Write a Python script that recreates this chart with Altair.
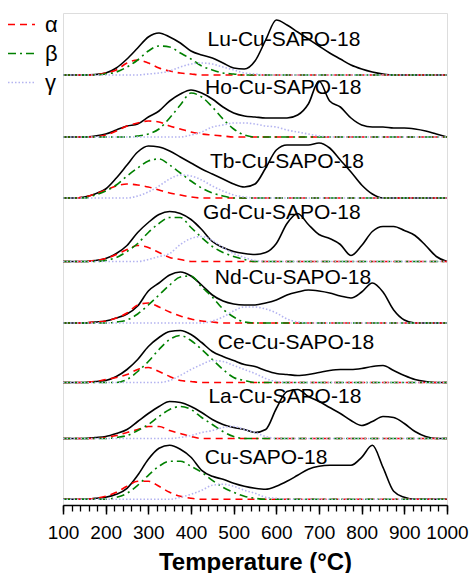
import altair as alt
import pandas as pd

# Temperature grid (°C)
T = list(range(100, 1001, 25))

samples = ["Lu-Cu-SAPO-18", "Ho-Cu-SAPO-18", "Tb-Cu-SAPO-18", "Gd-Cu-SAPO-18",
           "Nd-Cu-SAPO-18", "Ce-Cu-SAPO-18", "La-Cu-SAPO-18", "Cu-SAPO-18"]
# vertical stacking offsets (a.u.)
offsets = [430, 368, 307, 243.5, 182, 122.5, 66.5, 5.7]
# label anchors (temperature, a.u.)
label_T = [618, 616, 625, 613, 639, 646, 620, 576]
label_y = [465, 417, 343, 292, 227, 162, 108, 47]

major_ticks = list(range(100, 1001, 100))
minor_ticks = list(range(100, 1001, 20))

total = {
    "Lu-Cu-SAPO-18": [0,0,0,0.5,2,7,16,27,38,42,38,32,24,20,17,12,7,6,14,35,55,50,43,36,29,22,16,10,6,3,1,0,0,0,0,0,0],
    "Ho-Cu-SAPO-18": [0,0,0,1,3,7,11,13,20,26,36,43,47,44,38,30,24,21,20,19,19,19,22,33,56,36,30,19,12,10,10,9,9,8,6,3,0],
    "Tb-Cu-SAPO-18": [0,0,1,4,9,20,33,46,52,51,47,41,35,29,24,19,14,11,14,30,48,53,53,53,55,50,38,26,13,4,0,0,0,0,0,0,0],
    "Gd-Cu-SAPO-18": [0,0,0,1,3,8,16,29,39,47,50,48,42,32,20,14,10,8,7,9,18,38,48,37,27,23,17,6,16,30,35,35,31,26,16,5,0],
    "Nd-Cu-SAPO-18": [0,0,0,1,2,5,9,17,32,40,48,51,47,38,28,22,19,18,18,20,23,28,31,33,32,30,27,25,31,40,31,13,3,0,0,0,0],
    "Ce-Cu-SAPO-18": [0,0,0,1,2,6,13,23,36,45,51,52,48,40,31,26,22,18,16,12,9,8,7,8,10,12,13,13,14,16,17,12,7,3,1,0,0],
    "La-Cu-SAPO-18": [0,0,0,1,2,5,9,17,25,32,37,36,32,26,19,14,11,9,6,9,30,47,49,42,37,31,25,18,13,17,22,21,15,7,2,0,0],
    "Cu-SAPO-18":    [0,0,0,1,2,5,11,24,40,51,54,50,42,29,23,20,16,13,11,10,13,18,24,30,33,34,34,34,42,54,32,8,2,0,0,0,0],
}
alpha = {
    "Lu-Cu-SAPO-18": [0,0,0,0,2,5,12,15,12,7,4,2,1,0,0,0,0,0,0,0,0,0,0,0,0,0,0,0,0,0,0,0,0,0,0,0,0],
    "Ho-Cu-SAPO-18": [0,0,0,0,2,6,11,14,16,15,11,8,5,3,2,1,0,0,0,0,0,0,0,0,0,0,0,0,0,0,0,0,0,0,0,0,0],
    "Tb-Cu-SAPO-18": [0,0,1,4,8,12,14,13,11,8,5,3,1,0,0,0,0,0,0,0,0,0,0,0,0,0,0,0,0,0,0,0,0,0,0,0,0],
    "Gd-Cu-SAPO-18": [0,0,0,1,3,7,12,16,14,9,4,2,0,0,0,0,0,0,0,0,0,0,0,0,0,0,0,0,0,0,0,0,0,0,0,0,0],
    "Nd-Cu-SAPO-18": [0,0,0,1,2,5,10,18,20,16,11,7,4,2,1,0,0,0,0,0,0,0,0,0,0,0,0,0,0,0,0,0,0,0,0,0,0],
    "Ce-Cu-SAPO-18": [0,0,0,1,3,5,8,13,15,11,6,2,1,0,0,0,0,0,0,0,0,0,0,0,0,0,0,0,0,0,0,0,0,0,0,0,0],
    "La-Cu-SAPO-18": [0,0,0,0,1,3,6,9,12,12,8,5,2,0,0,0,0,0,0,0,0,0,0,0,0,0,0,0,0,0,0,0,0,0,0,0,0],
    "Cu-SAPO-18":    [0,0,0,1,3,7,13,18,18,13,7,3,1,0,0,0,0,0,0,0,0,0,0,0,0,0,0,0,0,0,0,0,0,0,0,0,0],
}
beta = {
    "Lu-Cu-SAPO-18": [0,0,0,0,1,3,8,15,24,29,28,22,16,9,5,2,1,0,0,0,0,0,0,0,0,0,0,0,0,0,0,0,0,0,0,0,0],
    "Ho-Cu-SAPO-18": [0,0,0,0,0,0,0,1,3,8,19,32,44,40,30,18,8,2,0,0,0,0,0,0,0,0,0,0,0,0,0,0,0,0,0,0,0],
    "Tb-Cu-SAPO-18": [0,0,0,3,7,13,22,30,37,39,33,25,17,10,5,2,0,0,0,0,0,0,0,0,0,0,0,0,0,0,0,0,0,0,0,0,0],
    "Gd-Cu-SAPO-18": [0,0,0,0,1,4,10,18,29,38,44,44,34,24,15,9,5,2,0,0,0,0,0,0,0,0,0,0,0,0,0,0,0,0,0,0,0],
    "Nd-Cu-SAPO-18": [0,0,0,0,0,1,3,9,18,28,38,46,47,36,26,14,6,1,0,0,0,0,0,0,0,0,0,0,0,0,0,0,0,0,0,0,0],
    "Ce-Cu-SAPO-18": [0,0,0,0,0,0,3,11,21,33,43,47,42,33,23,13,5,2,0,0,0,0,0,0,0,0,0,0,0,0,0,0,0,0,0,0,0],
    "La-Cu-SAPO-18": [0,0,0,0,0,1,3,8,14,22,29,32,29,21,14,7,2,0,0,0,0,0,0,0,0,0,0,0,0,0,0,0,0,0,0,0,0],
    "Cu-SAPO-18":    [0,0,0,0,0,2,6,14,24,33,38,38,33,27,19,12,7,3,1,0,0,0,0,0,0,0,0,0,0,0,0,0,0,0,0,0,0],
}
gamma = {
    "Lu-Cu-SAPO-18": [0,0,0,0,0,0,0,0,1,2,4,8,11,12,11,8,5,2,1,0,0,0,0,0,0,0,0,0,0,0,0,0,0,0,0,0,0],
    "Ho-Cu-SAPO-18": [0,0,0,0,0,0,0,0,0,0,0,0,2,5,10,12,14,14,13,11,10,7,5,3,1,0,0,0,0,0,0,0,0,0,0,0,0],
    "Tb-Cu-SAPO-18": [0,0,0,0,0,0,0,2,6,12,19,23,22,18,12,7,3,1,0,0,0,0,0,0,0,0,0,0,0,0,0,0,0,0,0,0,0],
    "Gd-Cu-SAPO-18": [0,0,0,0,0,0,0,0,2,5,8,17,23,25,21,14,8,4,1,0,0,0,0,0,0,0,0,0,0,0,0,0,0,0,0,0,0],
    "Nd-Cu-SAPO-18": [0,0,0,0,0,0,0,0,0,0,0,0,0,0,2,6,12,16,16,14,10,4,1,0,0,0,0,0,0,0,0,0,0,0,0,0,0],
    "Ce-Cu-SAPO-18": [0,0,0,0,0,0,0,0,0,0,2,7,13,18,22,21,17,13,9,4,1,0,0,0,0,0,0,0,0,0,0,0,0,0,0,0,0],
    "La-Cu-SAPO-18": [0,0,0,0,0,0,0,0,0,0,0,1,3,6,8,11,12,9,6,2,0,0,0,0,0,0,0,0,0,0,0,0,0,0,0,0,0],
    "Cu-SAPO-18":    [0,0,0,0,0,0,0,0,0,0,0,2,5,9,14,15,13,9,6,2,1,0,0,0,0,0,0,0,0,0,0,0,0,0,0,0,0],
}

comp_names = ["α", "β", "γ"]
comp_colors = ["#ff0000", "#008000", "#b4b4f0"]
comp_dashes = [[7, 5], [8, 4, 2, 4], [1.5, 2]]

rows_total, rows_comp = [], []
for s, off in zip(samples, offsets):
    for t, v in zip(T, total[s]):
        rows_total.append({"sample": s, "T": t, "y": off + v})
    for cname, cd in zip(comp_names, [alpha, beta, gamma]):
        for t, v in zip(T, cd[s]):
            rows_comp.append({"sample": s, "comp": cname, "key": s + cname, "T": t, "y": off + v})
df_total = pd.DataFrame(rows_total)
df_comp = pd.DataFrame(rows_comp)
df_lab = pd.DataFrame({"sample": samples, "T": label_T, "y": label_y})

FONT = "Liberation Sans"
xscale = alt.Scale(domain=[100, 1000], nice=False, zero=False)
yscale = alt.Scale(domain=[0, 492], nice=False, zero=False)

x_major = alt.X(
    "T:Q", scale=xscale,
    axis=alt.Axis(
        orient="bottom", values=major_ticks, format="d",
        tickSize=9, tickColor="black", tickWidth=1.5, domainColor="black", domainWidth=1.6,
        labelFont=FONT, labelFontSize=19, labelColor="black", labelPadding=9,
        labelOverlap=False, labelFlush=False, labelBound=False,
        title="Temperature (°C)", titleFont=FONT, titleFontSize=24,
        titleFontWeight="bold", titleColor="black", titlePadding=8, grid=False,
    ),
)
x_minor = alt.X(
    "T:Q", scale=xscale,
    axis=alt.Axis(
        orient="bottom", values=minor_ticks, tickSize=6, tickColor="black", tickWidth=1.3,
        labels=False, domain=False, title=None, grid=False,
    ),
)
yenc = alt.Y(
    "y:Q", scale=yscale,
    axis=alt.Axis(
        title="H₂- consumption (a. u.)", labels=False, ticks=False, domain=False, grid=False,
        titleFont=FONT, titleFontSize=22, titleFontWeight="bold", titleColor="black",
        titlePadding=11,
    ),
)

totals = alt.Chart(df_total).mark_line(
    color="black", strokeWidth=1.6, interpolate="monotone"
).encode(x=x_major, y=yenc, detail="sample:N")

leg = alt.Legend(
    title=None, orient="none", legendX=-56, legendY=-3, symbolType="stroke",
    symbolSize=729, symbolStrokeWidth=1.6, labelFont=FONT, labelFontSize=22,
    labelColor="black", labelOffset=9, rowPadding=3, padding=0,
)
comps = alt.Chart(df_comp).mark_line(strokeWidth=1.6, interpolate="monotone").encode(
    x=x_minor,
    y=alt.Y("y:Q", scale=yscale, axis=None),
    detail="key:N",
    color=alt.Color("comp:N", scale=alt.Scale(domain=comp_names, range=comp_colors), legend=leg),
    strokeDash=alt.StrokeDash("comp:N", scale=alt.Scale(domain=comp_names, range=comp_dashes), legend=leg),
    order=alt.Order("comp:N", sort="descending"),
)

labels = alt.Chart(df_lab).mark_text(
    font=FONT, fontSize=21, color="black", align="center", baseline="middle"
).encode(x=alt.X("T:Q", scale=xscale, axis=None), y=alt.Y("y:Q", scale=yscale, axis=None), text="sample:N")

chart = alt.layer(totals, comps, labels).resolve_axis(x="independent").properties(
    width=384, height=492,
    autosize=alt.AutoSizeParams(type="none"),
    padding={"left": 63, "top": 13, "right": 25, "bottom": 68},
).configure_view(stroke="black", strokeWidth=1.6).configure(background="white")

chart.save("out.html", embed_options={"renderer": "svg", "actions": False})
